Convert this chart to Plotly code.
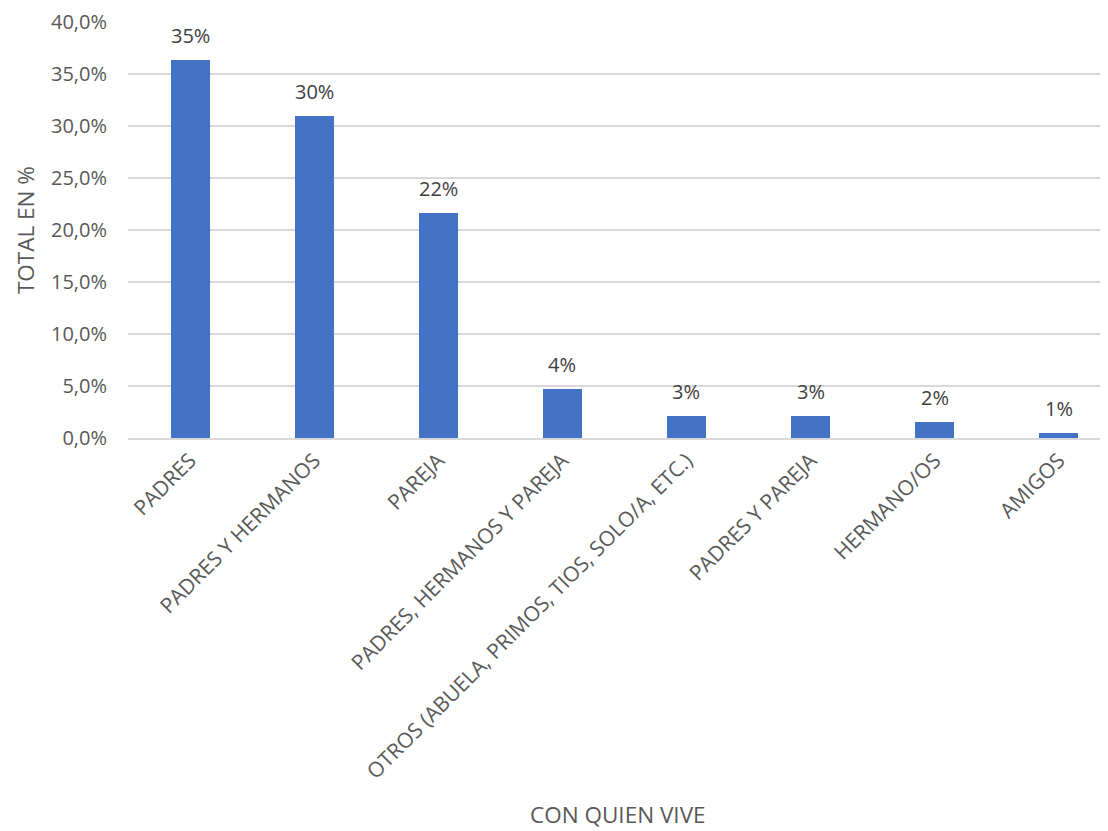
import plotly.graph_objects as go

categories = [
    "PADRES",
    "PADRES Y HERMANOS",
    "PAREJA",
    "PADRES, HERMANOS Y PAREJA",
    "OTROS (ABUELA, PRIMOS, TIOS, SOLO/A, ETC.)",
    "PADRES Y PAREJA",
    "HERMANO/OS",
    "AMIGOS",
]
values = [36.3, 31.0, 21.6, 4.7, 2.1, 2.1, 1.55, 0.45]
labels = ["35%", "30%", "22%", "4%", "3%", "3%", "2%", "1%"]
y_ticks = [0, 5, 10, 15, 20, 25, 30, 35, 40]
y_ticktext = ["0,0%", "5,0%", "10,0%", "15,0%", "20,0%", "25,0%", "30,0%", "35,0%", "40,0%"]

FONT = "Open Sans"
GRAY = "#595959"

fig = go.Figure()
fig.add_trace(go.Bar(
    x=categories,
    y=values,
    marker=dict(color="#4472C4", line=dict(width=0)),
    width=0.315,
    hoverinfo="skip",
))

for c, v, t in zip(categories, values, labels):
    fig.add_annotation(
        x=c, y=v, text=t, showarrow=False,
        yanchor="bottom", yshift=9,
        font=dict(family=FONT, size=20, color="#404040"),
    )

fig.add_annotation(
    xref="paper", yref="paper", x=0.5, y=-0.906,
    xanchor="center", yanchor="middle", showarrow=False,
    text="CON QUIEN VIVE",
    font=dict(family=FONT, size=22.5, color=GRAY),
)
fig.add_annotation(
    xref="paper", yref="paper", x=-0.105, y=0.5,
    xanchor="center", yanchor="middle", showarrow=False,
    text="TOTAL EN %", textangle=-90,
    font=dict(family=FONT, size=22.5, color=GRAY),
)

fig.update_layout(
    width=1100, height=823,
    margin=dict(l=120, r=0, t=14, b=393),
    plot_bgcolor="white", paper_bgcolor="white",
    showlegend=False,
    bargap=0,
    font=dict(family=FONT, size=20, color=GRAY),
)
fig.update_xaxes(
    range=[-0.5, 7.397],
    tickangle=-45,
    tickfont=dict(family=FONT, size=21, color=GRAY),
    showline=True, linecolor="#D9D9D9", linewidth=2,
    ticks="",
    automargin=False,
)
fig.update_yaxes(
    range=[0, 40],
    tickvals=y_ticks, ticktext=y_ticktext,
    tickfont=dict(family=FONT, size=20, color=GRAY),
    showgrid=True, gridcolor="#D9D9D9", gridwidth=2,
    zeroline=False,
    ticks="", ticklabelstandoff=20,
    automargin=False,
)

fig.write_html("out.html")
